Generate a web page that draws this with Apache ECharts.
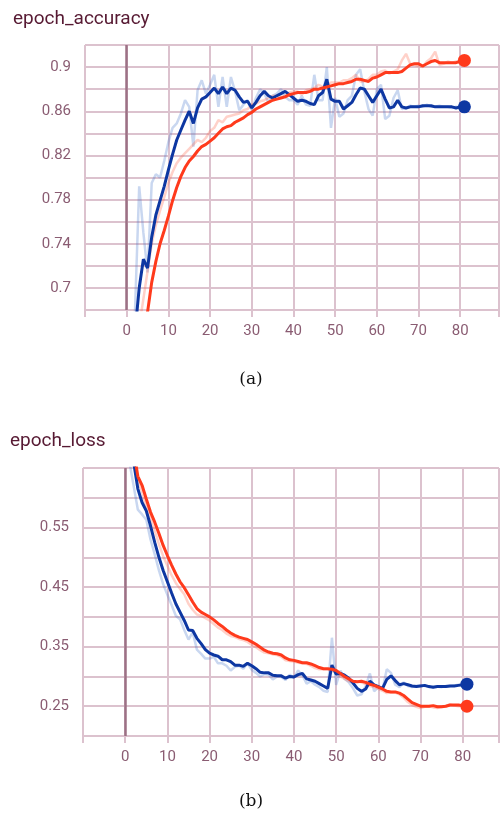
<!DOCTYPE html>
<html><head><meta charset="utf-8">
<script src="https://cdn.jsdelivr.net/npm/echarts@6/dist/echarts.min.js"></script>
<style>html,body{margin:0;padding:0;background:#fff}#c{width:502px;height:814px}</style>
</head><body><div id="c"></div>
<script>
const epochs = Array.from({length: 82}, (_, i) => i);
const xTicks = [-10, 0, 10, 20, 30, 40, 50, 60, 70, 80];
const accYLabels = [0.7, 0.74, 0.78, 0.82, 0.86, 0.9];
const lossYLabels = [0.25, 0.35, 0.45, 0.55];

const accBlueSmooth = [0.60,0.63,0.66,0.70,0.726,0.718,0.746,0.766,0.779,0.792,0.807,0.821,0.834,0.843,0.852,0.860,0.849,0.863,0.871,0.873,0.877,0.881,0.876,0.882,0.876,0.881,0.879,0.873,0.868,0.869,0.863,0.868,0.874,0.878,0.874,0.872,0.874,0.876,0.878,0.875,0.872,0.869,0.870,0.869,0.867,0.866,0.874,0.877,0.889,0.871,0.869,0.869,0.862,0.865,0.868,0.875,0.881,0.880,0.874,0.868,0.874,0.880,0.871,0.863,0.864,0.870,0.864,0.863,0.864,0.864,0.864,0.865,0.865,0.865,0.864,0.864,0.864,0.864,0.864,0.863,0.864,0.864];
const accBlueRaw = [0.60,0.64,0.68,0.792,0.75,0.714,0.795,0.803,0.800,0.815,0.832,0.845,0.849,0.858,0.870,0.864,0.828,0.879,0.888,0.876,0.884,0.893,0.864,0.891,0.864,0.891,0.878,0.861,0.866,0.870,0.861,0.872,0.880,0.876,0.868,0.874,0.876,0.880,0.873,0.870,0.870,0.866,0.874,0.866,0.865,0.893,0.870,0.870,0.900,0.845,0.872,0.855,0.858,0.870,0.874,0.893,0.898,0.878,0.862,0.856,0.880,0.884,0.853,0.856,0.872,0.879,0.862,0.863,0.865,0.864,0.865,0.864,0.866,0.864,0.864,0.865,0.864,0.864,0.863,0.864,0.864,0.864];
const accRedSmooth = [0.50,0.56,0.61,0.645,0.665,0.678,0.705,0.724,0.740,0.752,0.765,0.779,0.791,0.801,0.809,0.815,0.819,0.824,0.828,0.830,0.833,0.836,0.840,0.844,0.846,0.847,0.850,0.852,0.854,0.857,0.859,0.862,0.864,0.866,0.868,0.870,0.871,0.872,0.873,0.875,0.876,0.877,0.877,0.877,0.878,0.880,0.880,0.881,0.882,0.883,0.884,0.885,0.885,0.886,0.887,0.889,0.889,0.888,0.887,0.890,0.891,0.893,0.895,0.895,0.895,0.895,0.896,0.899,0.902,0.903,0.903,0.901,0.903,0.905,0.906,0.904,0.904,0.904,0.904,0.904,0.905,0.906];
const accRedRaw = [0.55,0.60,0.64,0.665,0.69,0.715,0.740,0.757,0.770,0.782,0.795,0.805,0.813,0.818,0.822,0.826,0.830,0.834,0.832,0.836,0.842,0.845,0.852,0.850,0.855,0.856,0.857,0.858,0.861,0.862,0.866,0.867,0.869,0.870,0.872,0.874,0.874,0.873,0.874,0.877,0.878,0.878,0.875,0.879,0.880,0.881,0.884,0.882,0.884,0.886,0.886,0.886,0.888,0.888,0.890,0.893,0.887,0.887,0.889,0.893,0.893,0.896,0.897,0.894,0.896,0.898,0.906,0.912,0.903,0.902,0.901,0.900,0.905,0.908,0.914,0.902,0.903,0.905,0.904,0.905,0.906,0.907];

const lossBlueSmooth = [0.78,0.72,0.66,0.615,0.592,0.578,0.553,0.525,0.500,0.478,0.459,0.440,0.422,0.408,0.394,0.378,0.377,0.364,0.355,0.345,0.339,0.336,0.334,0.328,0.328,0.325,0.319,0.319,0.317,0.322,0.318,0.313,0.307,0.306,0.306,0.302,0.301,0.301,0.297,0.300,0.299,0.303,0.305,0.296,0.294,0.292,0.288,0.284,0.280,0.319,0.304,0.305,0.302,0.297,0.289,0.280,0.275,0.279,0.292,0.286,0.283,0.280,0.295,0.301,0.293,0.286,0.288,0.286,0.284,0.283,0.284,0.285,0.283,0.282,0.283,0.283,0.283,0.284,0.284,0.285,0.286,0.287];
const lossBlueRaw = [0.72,0.66,0.62,0.58,0.572,0.563,0.53,0.505,0.478,0.455,0.437,0.42,0.402,0.396,0.378,0.362,0.374,0.345,0.338,0.330,0.330,0.333,0.322,0.322,0.318,0.310,0.316,0.318,0.313,0.322,0.311,0.306,0.300,0.304,0.303,0.295,0.300,0.299,0.294,0.303,0.298,0.310,0.302,0.288,0.292,0.286,0.282,0.276,0.274,0.365,0.286,0.310,0.296,0.290,0.280,0.268,0.270,0.284,0.305,0.275,0.282,0.278,0.312,0.306,0.286,0.282,0.290,0.284,0.282,0.284,0.285,0.284,0.282,0.283,0.283,0.282,0.284,0.284,0.285,0.286,0.286,0.287];
const lossRedSmooth = [0.85,0.76,0.68,0.636,0.621,0.598,0.576,0.559,0.540,0.520,0.503,0.487,0.472,0.459,0.449,0.437,0.425,0.414,0.408,0.404,0.400,0.395,0.389,0.384,0.378,0.373,0.369,0.366,0.364,0.362,0.358,0.354,0.349,0.344,0.341,0.339,0.338,0.336,0.331,0.328,0.327,0.325,0.323,0.323,0.321,0.318,0.315,0.313,0.313,0.312,0.310,0.305,0.300,0.296,0.292,0.291,0.292,0.290,0.287,0.285,0.282,0.279,0.275,0.274,0.274,0.272,0.268,0.262,0.256,0.253,0.250,0.250,0.250,0.251,0.249,0.249,0.250,0.252,0.252,0.252,0.251,0.250];
const lossRedRaw = [0.80,0.70,0.66,0.628,0.61,0.585,0.565,0.545,0.522,0.502,0.486,0.47,0.457,0.447,0.438,0.422,0.412,0.404,0.402,0.398,0.394,0.388,0.382,0.378,0.372,0.368,0.366,0.363,0.361,0.358,0.353,0.349,0.344,0.340,0.339,0.337,0.336,0.333,0.327,0.326,0.325,0.323,0.322,0.321,0.318,0.314,0.312,0.312,0.312,0.310,0.306,0.300,0.296,0.292,0.290,0.292,0.290,0.287,0.284,0.282,0.279,0.276,0.272,0.273,0.273,0.270,0.264,0.257,0.252,0.249,0.247,0.249,0.250,0.248,0.247,0.249,0.251,0.253,0.251,0.250,0.250,0.250];

const BLUE = '#0d37a2', RED = '#ff3a1c';
const BLUE_RAW = 'rgba(60,110,200,0.28)', RED_RAW = 'rgba(255,90,60,0.28)';
const GRID = '#dcc2ce', LABEL = '#8a5c72', TITLE = '#571a33', ZERO = '#9c7185';
const FONT = 'Roboto';

const pairs = arr => arr.map((v, i) => [epochs[i], v]);
const near = (v, list) => list.some(t => Math.abs(t - v) < 1e-6);

function xAxis(gi) {
  return {
    gridIndex: gi, type: 'value', min: -10, max: gi === 0 ? 89.3 : 88.6, interval: 10,
    axisLine: {show: false},
    axisTick: {show: true, length: 7, lineStyle: {color: GRID, width: 2}},
    splitLine: {show: true, lineStyle: {color: GRID, width: 2}},
    axisLabel: {color: LABEL, fontFamily: FONT, fontSize: 15, margin: 14,
      formatter: v => (near(v, xTicks) && v >= 0) ? String(v) : ''}
  };
}
function yAxis(gi, min, max, interval, labels) {
  return {
    gridIndex: gi, type: 'value', min: min, max: max, interval: interval,
    axisLine: {show: false},
    axisTick: {show: true, length: 7, lineStyle: {color: GRID, width: 2}},
    splitLine: {show: true, lineStyle: {color: GRID, width: 2}},
    axisLabel: {color: LABEL, fontFamily: FONT, fontSize: 15, margin: 14,
      formatter: v => near(v, labels) ? String(+v.toFixed(2)) : ''}
  };
}
function line(gi, data, color, width, z) {
  return {type: 'line', xAxisIndex: gi, yAxisIndex: gi, data: pairs(data), showSymbol: false,
    symbol: 'none', clip: true, z: z, lineStyle: {color: color, width: width}, silent: true, animation: false};
}
function dot(gi, data, color) {
  const i = data.length - 1;
  return {type: 'scatter', xAxisIndex: gi, yAxisIndex: gi, data: [[epochs[i], data[i]]],
    symbolSize: 13, itemStyle: {color: color, opacity: 1}, z: 10, animation: false, silent: true};
}
function zero(gi) {
  return {type: 'line', xAxisIndex: gi, yAxisIndex: gi, data: [], silent: true, animation: false,
    markLine: {symbol: 'none', silent: true, label: {show: false},
      lineStyle: {color: ZERO, width: 2.5, type: 'solid'}, data: [{xAxis: 0}]}, z: 1};
}

const chart = echarts.init(document.getElementById('c'), null, {renderer: 'canvas'});
chart.setOption({
  animation: false,
  backgroundColor: '#fff',
  title: [
    {text: 'epoch_accuracy', left: 8, top: 5, textStyle: {color: TITLE, fontFamily: FONT, fontSize: 19, fontWeight: 'normal'}},
    {text: 'epoch_loss', left: 5, top: 427, textStyle: {color: TITLE, fontFamily: FONT, fontSize: 19, fontWeight: 'normal'}},
    {text: '(a)', left: 'center', top: 366, textStyle: {color: '#111', fontFamily: 'DejaVu Serif', fontSize: 17, fontWeight: 'normal'}},
    {text: '(b)', left: 'center', top: 788, textStyle: {color: '#111', fontFamily: 'DejaVu Serif', fontSize: 17, fontWeight: 'normal'}}
  ],
  grid: [
    {left: 85, top: 45, width: 417, height: 265},
    {left: 83, top: 468, width: 419, height: 268}
  ],
  xAxis: [xAxis(0), xAxis(1)],
  yAxis: [yAxis(0, 0.68, 0.92, 0.02, accYLabels), yAxis(1, 0.2, 0.65, 0.05, lossYLabels)],
  series: [
    zero(0), zero(1),
    line(0, accBlueRaw, BLUE_RAW, 2.5, 2), line(0, accRedRaw, RED_RAW, 2.5, 2),
    line(0, accBlueSmooth, BLUE, 3, 4), line(0, accRedSmooth, RED, 3, 5),
    dot(0, accBlueSmooth, BLUE), dot(0, accRedSmooth, RED),
    line(1, lossBlueRaw, BLUE_RAW, 2.5, 2), line(1, lossRedRaw, RED_RAW, 2.5, 2),
    line(1, lossBlueSmooth, BLUE, 3, 4), line(1, lossRedSmooth, RED, 3, 5),
    dot(1, lossBlueSmooth, BLUE), dot(1, lossRedSmooth, RED)
  ]
});
</script></body></html>
